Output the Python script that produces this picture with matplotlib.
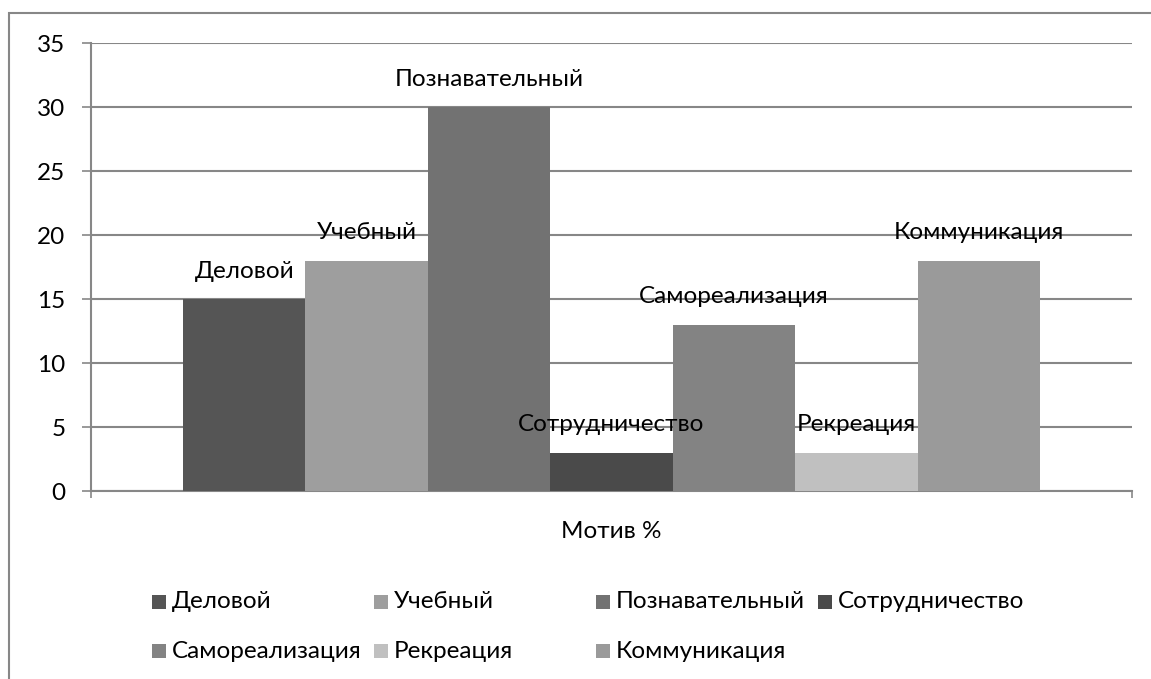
import matplotlib.pyplot as plt
from matplotlib.patches import Rectangle
import numpy as np

# data
motives = ["Деловой", "Учебный", "Познавательный", "Сотрудничество",
           "Самореализация", "Рекреация", "Коммуникация"]
values = [15, 18, 30, 3, 13, 3, 18]
colors = ["#555555", "#9e9e9e", "#727272", "#4a4a4a",
          "#838383", "#c0c0c0", "#9a9a9a"]
y_ticks = [0, 5, 10, 15, 20, 25, 30, 35]
axis_title = "Мотив %"

plt.rcParams['font.family'] = ['Lato', 'DejaVu Sans']
grid_col = "#878787"
fs = 17.5
W, H = 1151, 679

fig = plt.figure(figsize=(W / 100, H / 100), dpi=100)
fig.patches.append(Rectangle((9 / W, -0.1), 1.2, 1.1 - 13 / H,
                             transform=fig.transFigure, fill=False,
                             edgecolor=grid_col, lw=1.5))

ax = fig.add_axes([91 / W, 1 - 491 / H, 1041 / W, 448 / H])
x = np.arange(len(values))
ax.bar(x, values, width=1.0, color=colors, zorder=3)

for xi, v, name in zip(x, values, motives):
    ax.annotate(name, (xi, v), xytext=(0, 20), textcoords="offset points",
                ha="center", va="center", fontsize=fs, zorder=4)

margin = 7 * 1041 / 857 / 2 - 3.5
ax.set_xlim(-0.5 - margin, 6.5 + margin)
ax.set_ylim(0, 35)
ax.set_yticks(y_ticks)
ax.set_yticklabels([str(t) for t in y_ticks], fontsize=fs)
ax.set_xticks([-0.5 - margin, 6.5 + margin])
ax.set_xticklabels(["", ""])
ax.tick_params(axis="y", length=6.5, width=1.2, color=grid_col, pad=12)
ax.tick_params(axis="x", length=5, width=1.2, color=grid_col)
ax.yaxis.grid(True, color=grid_col, lw=1.5, zorder=0)
for side in ["top", "right"]:
    ax.spines[side].set_visible(False)
for side in ["left", "bottom"]:
    ax.spines[side].set_color(grid_col)
    ax.spines[side].set_linewidth(1.5)

fig.text(611 / W, 1 - 532 / H, axis_title, ha="center", va="center",
         fontsize=fs)

# legend: 4 equal-width columns, filled row by row
for i, (name, c) in enumerate(zip(motives, colors)):
    col, row = i % 4, i // 4
    x0 = 152 + col * 222
    yc = 602 + row * 49
    fig.add_artist(Rectangle((x0 / W, 1 - (yc + 7) / H), 14 / W, 14 / H,
                             transform=fig.transFigure, facecolor=c,
                             edgecolor="none"))
    fig.text((x0 + 20) / W, 1 - yc / H, name, ha="left", va="center",
             fontsize=fs)

fig.savefig("out.png", dpi=100)
